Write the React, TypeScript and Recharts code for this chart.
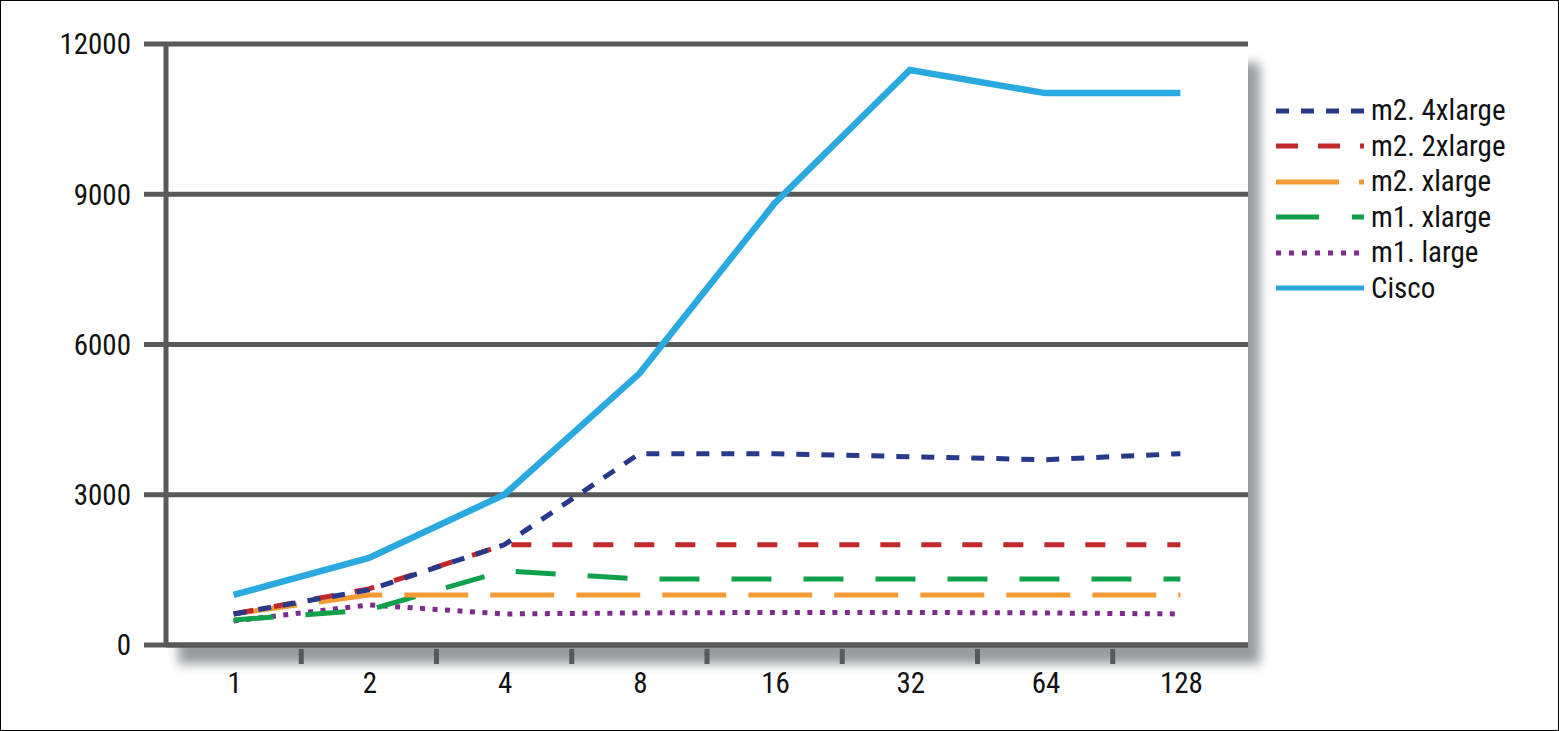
import { LineChart, Line, XAxis, YAxis, CartesianGrid } from "recharts";

const threads = ["1", "2", "4", "8", "16", "32", "64", "128"];
const m2_4xlarge = [620, 1100, 2000, 3820, 3820, 3760, 3700, 3820];
const m2_2xlarge = [620, 1120, 2000, 2000, 2000, 2000, 2000, 2000];
const m2_xlarge = [620, 1000, 1000, 1000, 1000, 1000, 1000, 1000];
const m1_xlarge = [500, 700, 1480, 1320, 1320, 1320, 1320, 1320];
const m1_large = [480, 800, 620, 640, 650, 650, 640, 620];
const cisco = [1000, 1740, 3000, 5420, 8820, 11480, 11020, 11020];
const yTicks = [0, 3000, 6000, 9000, 12000];

const data = threads.map((t, i) => ({
  threads: t,
  m24: m2_4xlarge[i],
  m22: m2_2xlarge[i],
  m2x: m2_xlarge[i],
  m1x: m1_xlarge[i],
  m1l: m1_large[i],
  cisco: cisco[i],
}));

// legend order (top to bottom)
const series = [
  { key: "m24", name: "m2. 4xlarge", color: "#26398a", dash: "13 12", legendDash: "13 12", width: 5 },
  { key: "m22", name: "m2. 2xlarge", color: "#c1272d", dash: "20 21", legendDash: "22 20", width: 5 },
  { key: "m2x", name: "m2. xlarge", color: "#f39a34", dash: "64 22", legendDash: "63 20", width: 5 },
  { key: "m1x", name: "m1. xlarge", color: "#0ea04b", dash: "40 32", legendDash: "43 33", width: 5 },
  { key: "m1l", name: "m1. large", color: "#7f2b8e", dash: "5 7.5", legendDash: "5 8", width: 5 },
  { key: "cisco", name: "Cisco", color: "#2aa9e0", dash: undefined, legendDash: undefined, width: 6.5 },
];

const W = 1559;
const H = 731;
const PLOT = { left: 166, top: 44, right: 1248, bottom: 645 };
const PLOT_W = PLOT.right - PLOT.left;
const BAND = PLOT_W / threads.length;
const GRID = "#58595b";
const FONT = "'Liberation Sans Narrow', 'Roboto Condensed', 'DejaVu Sans Condensed', sans-serif";
const FS = 29;

const XTick = (props: any) => {
  const { x, y, payload, index } = props;
  return (
    <g>
      {index < threads.length - 1 && (
        <line x1={x + BAND / 2} x2={x + BAND / 2} y1={y + 2} y2={y + 17} stroke={GRID} strokeWidth={5} />
      )}
      <text x={x + 1} y={y + 46} textAnchor="middle" fontSize={FS} fontFamily={FONT} fill="#111">
        {payload.value}
      </text>
    </g>
  );
};

const ChartLegend = () => (
  <div
    style={{
      position: "absolute",
      left: 1276,
      top: 93,
      fontFamily: FONT,
      fontSize: FS,
      color: "#111",
    }}
  >
    {series.map((s) => (
      <div key={s.key} style={{ display: "flex", alignItems: "center", height: 35.5 }}>
        <svg width={88} height={10} style={{ display: "block" }}>
          <line x1={0} x2={88} y1={5} y2={5} stroke={s.color} strokeWidth={5} strokeDasharray={s.legendDash} />
        </svg>
        <span style={{ marginLeft: 7, lineHeight: "35.5px", whiteSpace: "nowrap" }}>{s.name}</span>
      </div>
    ))}
  </div>
);

export default function App() {
  const drawOrder = [...series].reverse();
  return (
    <div style={{ position: "absolute", left: 0, top: 0, width: W, height: H, background: "#fff" }}>
      <div
        style={{
          position: "absolute",
          left: PLOT.left,
          top: PLOT.top,
          width: PLOT_W,
          height: PLOT.bottom - PLOT.top,
          background: "#fff",
          boxShadow: "12px 19px 10px #9a9da0",
        }}
      />
      <LineChart
        width={W}
        height={H}
        data={data}
        margin={{ top: PLOT.top, right: W - PLOT.right, bottom: 0, left: 0 }}
        style={{ position: "absolute", left: 0, top: 0 }}
      >
        <CartesianGrid vertical={false} stroke={GRID} strokeWidth={5} strokeOpacity={1} />
        <XAxis
          dataKey="threads"
          height={H - PLOT.bottom}
          padding={{ left: BAND / 2, right: BAND / 2 }}
          tickLine={false}
          tickSize={0}
          axisLine={{ stroke: GRID, strokeWidth: 5 }}
          tick={<XTick />}
          interval={0}
        />
        <YAxis
          width={PLOT.left}
          domain={[0, 12000]}
          ticks={yTicks}
          tickSize={22}
          tickMargin={13}
          tickLine={{ stroke: GRID, strokeWidth: 5 }}
          axisLine={{ stroke: GRID, strokeWidth: 5 }}
          tick={{ fontSize: FS, fontFamily: FONT, fill: "#111" }}
        />
        <YAxis
          yAxisId="r"
          orientation="right"
          width={0}
          domain={[0, 12000]}
          ticks={yTicks}
          tick={false}
          tickLine={false}
          axisLine={{ stroke: GRID, strokeWidth: 5 }}
        />
        {drawOrder.map((s) => (
          <Line
            key={s.key}
            type="linear"
            dataKey={s.key}
            name={s.name}
            stroke={s.color}
            strokeWidth={s.width}
            strokeDasharray={s.dash}
            dot={false}
            activeDot={false}
            isAnimationActive={false}
          />
        ))}
      </LineChart>
      <ChartLegend />
      <div
        style={{
          position: "absolute",
          left: 0,
          top: 0,
          width: W,
          height: H,
          border: "1.5px solid #000",
          boxSizing: "border-box",
          pointerEvents: "none",
        }}
      />
    </div>
  );
}
